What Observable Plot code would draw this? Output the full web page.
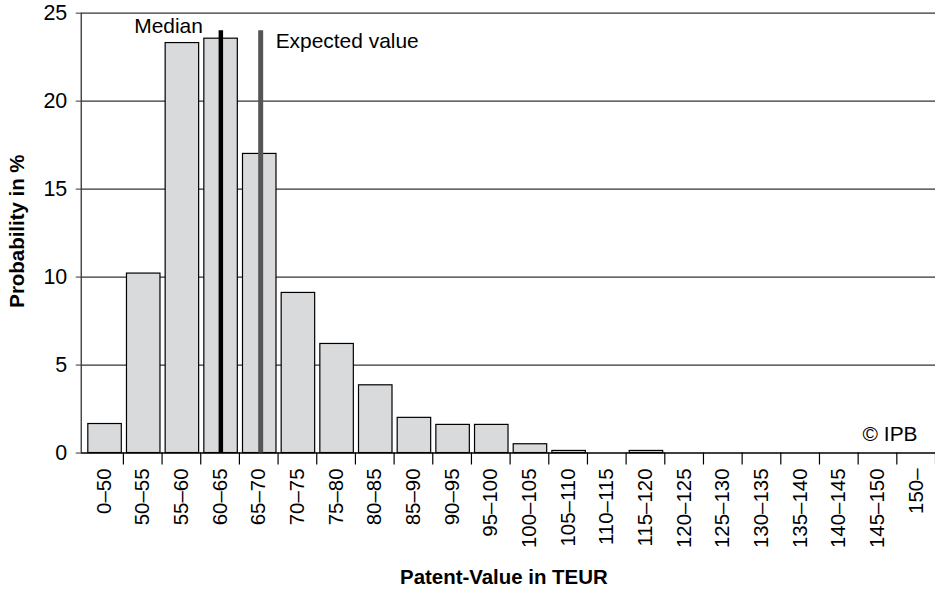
<!DOCTYPE html>
<html>
<head>
<meta charset="utf-8">
<script src="https://cdn.jsdelivr.net/npm/d3@7"></script>
<script src="https://cdn.jsdelivr.net/npm/@observablehq/plot@0.6"></script>
<style>
  html, body { margin: 0; padding: 0; background: #fff; overflow: hidden; }
  #chart { width: 935px; height: 591px; overflow: hidden; }
  svg { display: block; }
</style>
</head>
<body>
<div id="chart"></div>
<script>
// ---- data ----
const categories = ["0–50","50–55","55–60","60–65","65–70","70–75","75–80","80–85","85–90","90–95","95–100","100–105","105–110","110–115","115–120","120–125","125–130","130–135","135–140","140–145","145–150","150–"];
const probability = [1.65, 10.2, 23.3, 23.55, 17.0, 9.1, 6.2, 3.85, 2.0, 1.6, 1.6, 0.5, 0.12, 0, 0.12, 0, 0, 0, 0, 0, 0, 0];
const yTicks = [0, 5, 10, 15, 20, 25];
// marker positions in category-index units (bin i spans i..i+1)
const medianPos = 3.52;
const expectedPos = 4.55;
const markerHeight = 24;
const yTitle = "Probability in %";
const xTitle = "Patent-Value in TEUR";
const credit = "© IPB";

const table = categories.map((c, i) => ({cat: c, i, p: probability[i]}));
const xDomain = [-0.09, categories.length];
const font = "'Liberation Sans', Arial, Helvetica, sans-serif";

const chart = Plot.plot({
  width: 938,
  height: 591,
  marginLeft: 81,
  marginRight: 0,
  marginTop: 12.7,
  marginBottom: 137,
  style: {fontFamily: font, fontSize: "21px", color: "#000", background: "#fff"},
  x: {type: "linear", domain: xDomain, axis: null},
  y: {domain: [0, 25], axis: null},
  marks: [
    Plot.gridY(yTicks.filter(d => d > 0), {stroke: "#333", strokeOpacity: 1, strokeWidth: 1.3}),
    Plot.axisY({ticks: yTicks, tickSize: 5, tickPadding: 9, fontSize: 21.5, label: null, stroke: "#333"}),
    Plot.ruleX([xDomain[0]], {stroke: "#333", strokeWidth: 1.3}),
    Plot.rectY(table, {x1: "i", x2: d => d.i + 1, y: "p", fill: "#d9dadc", stroke: "#000", strokeWidth: 1.2, insetLeft: 3.6, insetRight: 1.6}),
    Plot.ruleY([0], {stroke: "#000", strokeWidth: 1.4}),
    Plot.axisX({ticks: d3.range(1, categories.length + 1), tickSize: 12, tickFormat: () => "", label: null, stroke: "#000", strokeWidth: 1.2}),
    Plot.text(table, {x: d => d.i + 0.5, text: "cat", frameAnchor: "bottom", rotate: -90, textAnchor: "end", lineAnchor: "middle", dy: 15.5, fontSize: 20.5, fill: "#000"}),
    Plot.ruleX([medianPos], {y1: 0, y2: markerHeight, stroke: "#000", strokeWidth: 4.5}),
    Plot.ruleX([expectedPos], {y1: 0, y2: markerHeight, stroke: "#555", strokeWidth: 5}),
    Plot.text(["Median"], {x: medianPos, y: markerHeight, textAnchor: "end", lineAnchor: "bottom", dx: -18, dy: 2.6, fontSize: 21, fill: "#000"}),
    Plot.text(["Expected value"], {x: expectedPos, y: markerHeight, textAnchor: "start", lineAnchor: "top", dx: 15, dy: 2.6, fontSize: 21, fill: "#000"}),
    Plot.text([credit], {frameAnchor: "bottom-right", textAnchor: "end", lineAnchor: "bottom", dx: -18, dy: -12.3, fontSize: 21, fill: "#000"}),
    Plot.text([yTitle], {frameAnchor: "left", textAnchor: "middle", lineAnchor: "middle", rotate: -90, dx: -64, dy: -2, fontSize: 20.5, fontWeight: "bold", fill: "#000"}),
    Plot.text([xTitle], {frameAnchor: "bottom", textAnchor: "middle", lineAnchor: "bottom", dx: -4.5, dy: 131, fontSize: 20.5, fontWeight: "bold", fill: "#000"})
  ]
});
document.getElementById("chart").appendChild(chart);
</script>
</body>
</html>
